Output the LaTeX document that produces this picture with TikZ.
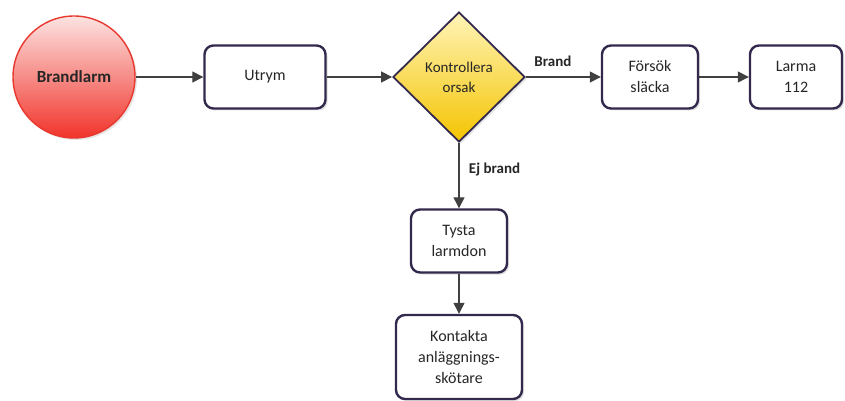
\documentclass[tikz,border=0pt]{standalone}
\usepackage{fontspec}
\setmainfont{Carlito}
\usepackage{xcolor}
\usepackage{tikz}
\usetikzlibrary{shapes.geometric}
\usetikzlibrary{shadows}
\usetikzlibrary{arrows.meta,positioning}

\definecolor{boxline}{HTML}{33294D}
\definecolor{linegray}{HTML}{404040}
\definecolor{alarmred}{HTML}{E8382E}
\definecolor{alarmtop}{HTML}{FCE3E1}
\definecolor{alarmbot}{HTML}{F1342B}
\definecolor{dectop}{HTML}{FFF4B8}
\definecolor{decbot}{HTML}{F4C400}

\begin{document}
\begin{tikzpicture}
  [x=1pt,y=-1pt,
   every node/.style={font=\fontsize{16}{21}\selectfont,align=center,text=black!85},
   stepbox/.style={rectangle,rounded corners=9pt,draw=boxline,line width=2.4pt,fill=white,
     minimum height=63pt,inner sep=2pt,
     drop shadow={opacity=0.25,shadow xshift=2pt,shadow yshift=-2pt}},
   startnode/.style={circle,draw=alarmred,line width=1.4pt,top color=alarmtop,bottom color=alarmbot,
     minimum size=122pt,inner sep=0pt,font=\fontsize{17}{21}\selectfont\bfseries,
     drop shadow={opacity=0.2,shadow xshift=2pt,shadow yshift=-2pt}},
   decision/.style={diamond,draw=boxline,line width=1.8pt,top color=dectop,bottom color=decbot,
     minimum width=132pt,minimum height=130pt,inner sep=0pt,font=\fontsize{15}{20}\selectfont,
     drop shadow={opacity=0.2,shadow xshift=2pt,shadow yshift=-2pt}},
   flow/.style={draw=linegray,line width=1.3pt,-{Triangle[length=11pt,width=11pt]}},
   flowlabel/.style={font=\fontsize{15}{18}\selectfont\bfseries,text=black!85}]
  \useasboundingbox (0,0) rectangle (845,401);

  \node[startnode] (alarm) at (74,77) {Brandlarm};
  \node[stepbox,minimum width=121pt] (utrym) at (265,77) {Utrym};
  \node[decision] (check) at (459,77) {Kontrollera\\orsak};
  \node[stepbox,minimum width=96pt] (extinguish) at (650,77) {Försök\\släcka};
  \node[stepbox,minimum width=92pt] (call) at (796,77) {Larma\\112};
  \node[stepbox,minimum width=96pt] (silence) at (459,241) {Tysta\\larmdon};
  \node[stepbox,minimum width=126pt,minimum height=84pt] (contact) at (459,357)
    {Kontakta\\anläggnings-\\skötare};

  \foreach \from/\to in {alarm/utrym,utrym/check,extinguish/call,silence/contact}
    \draw[flow] (\from) -- (\to);
  \draw[flow] (check) -- node[flowlabel,above=6pt,pos=0.36] {Brand} (extinguish);
  \draw[flow] (check) -- node[flowlabel,right=6pt,pos=0.4] {Ej brand} (silence);

\end{tikzpicture}
\end{document}
